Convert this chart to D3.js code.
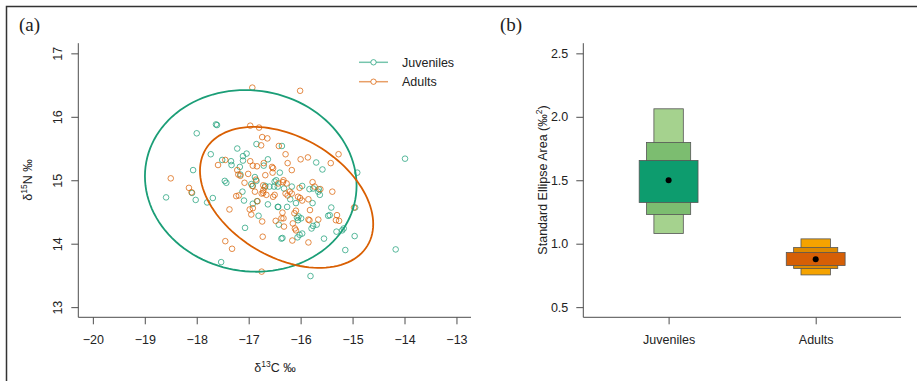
<!DOCTYPE html>
<html>
<head>
<meta charset="utf-8">
<script src="https://cdn.jsdelivr.net/npm/d3@7"></script>
<style>
  body { margin: 0; background: #fff; }
  svg { display: block; font-family: "Liberation Sans", Arial, sans-serif; }
</style>
</head>
<body>
<svg id="chart" width="917" height="381"></svg>
<script>
// --- data ---
const groups = ['Juveniles', 'Adults'];

// d13C, d15N
const juveniles = [
  [-18.59, 14.73], [-18.07, 15.16], [-18.00, 15.74], [-18.09, 14.80], [-18.02, 14.69],
  [-17.80, 14.65], [-17.69, 14.72], [-17.73, 15.41], [-17.63, 15.88], [-17.61, 15.87],
  [-17.53, 13.71], [-17.46, 14.99], [-17.43, 14.96], [-17.51, 15.32], [-17.34, 15.30],
  [-17.33, 15.24], [-17.22, 15.50], [-17.17, 15.21], [-17.16, 15.09], [-17.12, 14.82],
  [-17.09, 14.68], [-17.07, 14.25], [-17.11, 15.38], [-17.04, 15.42], [-17.11, 15.31],
  [-16.95, 14.94], [-16.88, 15.05], [-16.85, 14.99], [-16.85, 15.57], [-16.92, 14.63],
  [-16.81, 14.44], [-16.84, 14.67], [-16.71, 15.23], [-16.63, 15.33], [-16.68, 14.91],
  [-16.63, 14.62], [-16.51, 14.90], [-16.47, 15.00], [-16.50, 14.98], [-16.43, 14.58],
  [-16.42, 14.30], [-16.36, 15.54], [-16.40, 15.12], [-16.35, 14.09], [-16.32, 14.87],
  [-16.26, 14.58], [-16.20, 14.70], [-16.17, 14.90], [-16.09, 14.64], [-16.07, 14.41],
  [-16.04, 14.43], [-16.05, 14.37], [-15.99, 14.40], [-15.97, 14.91], [-16.02, 14.14],
  [-16.06, 14.10], [-15.97, 14.16], [-15.83, 14.86], [-15.77, 14.64], [-15.79, 14.24],
  [-15.76, 14.28], [-15.70, 15.28], [-15.69, 14.30], [-15.81, 13.49], [-15.63, 14.77],
  [-15.58, 15.17], [-15.55, 14.08], [-15.47, 14.44], [-15.44, 14.45], [-15.41, 14.57],
  [-15.31, 14.19], [-15.17, 14.24], [-15.20, 14.21], [-15.14, 13.90], [-14.96, 14.12],
  [-14.95, 14.57], [-14.91, 15.12], [-14.17, 13.91], [-13.99, 15.34], [-15.66, 14.82],
  [-16.60, 14.90], [-16.92, 14.91], [-16.44, 14.90], [-16.44, 14.58], [-15.76, 14.87],
  [-15.65, 14.86], [-16.37, 14.08]
];

const adults = [
  [-18.50, 15.03], [-18.15, 14.88], [-18.10, 14.81], [-17.59, 15.24], [-17.45, 15.32],
  [-17.45, 14.04], [-17.32, 13.92], [-17.37, 14.54], [-17.24, 14.75], [-17.19, 14.76],
  [-17.22, 15.16], [-17.20, 15.09], [-17.16, 15.07], [-17.08, 14.96], [-17.01, 15.10],
  [-16.97, 15.86], [-16.80, 15.83], [-16.93, 16.46], [-16.74, 15.68], [-16.64, 15.66],
  [-16.76, 15.55], [-16.97, 15.30], [-16.92, 15.23], [-16.84, 15.22], [-16.86, 15.01],
  [-16.93, 14.91], [-16.98, 14.54], [-16.95, 14.46], [-16.83, 14.67], [-16.75, 14.79],
  [-16.72, 14.84], [-16.71, 15.27], [-16.68, 15.08], [-16.74, 14.35], [-16.73, 14.11],
  [-16.75, 13.56], [-16.55, 15.21], [-16.53, 15.19], [-16.54, 15.12], [-16.42, 15.54],
  [-16.29, 15.41], [-16.25, 15.27], [-16.17, 15.16], [-16.43, 14.95], [-16.33, 15.00],
  [-16.34, 14.97], [-16.48, 14.36], [-16.37, 14.40], [-16.33, 14.40], [-16.35, 14.49],
  [-16.32, 14.27], [-16.29, 14.79], [-16.25, 14.76], [-16.21, 14.82], [-16.17, 14.79],
  [-16.15, 14.32], [-16.16, 14.05], [-16.12, 14.48], [-16.09, 14.52], [-16.11, 14.24],
  [-16.09, 14.21], [-16.02, 14.88], [-15.97, 14.68], [-16.01, 16.41], [-16.00, 15.33],
  [-16.05, 14.74], [-16.01, 14.72], [-15.86, 15.36], [-15.85, 14.70], [-15.82, 14.53],
  [-15.85, 14.38], [-15.83, 14.37], [-15.85, 14.02], [-15.77, 14.97], [-15.73, 14.90],
  [-15.66, 14.38], [-15.62, 14.86], [-15.42, 15.27], [-15.39, 14.82], [-15.27, 15.41],
  [-15.30, 14.45], [-15.32, 14.37], [-15.26, 14.36], [-14.97, 14.57], [-16.72, 14.92],
  [-16.69, 14.89], [-16.88, 14.82], [-16.66, 14.77], [-16.27, 14.95], [-16.72, 14.80],
  [-16.53, 14.74], [-16.50, 14.77], [-16.92, 14.56]
];

// standard ellipse: centre and covariance (sxx, syy, sxy)
const ellipseJuv = { cx: -16.96, cy: 14.99, sxx: 4.15, syy: 2.05, sxy: -0.15 };
const ellipseAdu = { cx: -16.27, cy: 14.73, sxx: 2.78, syy: 1.234, sxy: -0.70 };

// SEA posterior: mode and credible intervals 50 / 75 / 95 (low, high)
const seaMode = [1.50, 0.878];
const sea50 = [[1.325, 1.656], [0.828, 0.931]];
const sea75 = [[1.23, 1.798], [0.804, 0.970]];
const sea95 = [[1.08, 2.063], [0.754, 1.038]];

const xTicksA = [-20, -19, -18, -17, -16, -15, -14, -13];
const yTicksA = [13, 14, 15, 16, 17];
const yTicksB = [0.5, 1.0, 1.5, 2.0, 2.5];

// --- styles ---
const colors = { Juveniles: '#1b9e77', Adults: '#d95f02' };
const boxFills = {
  Juveniles: ['#a5d28e', '#7cbd70', '#0d9c6e'],
  Adults: ['#f5a300', '#de8a00', '#d65f06']
};
const axisColor = '#4d4d4d';
const textColor = '#222';

const svg = d3.select('#chart');

// frame of the figure
svg.append('path')
  .attr('d', 'M6.5,381V6.5H917')
  .attr('fill', 'none').attr('stroke', '#333').attr('stroke-width', 1.5);

function panelLabel(x, text) {
  svg.append('text')
    .attr('x', x).attr('y', 31)
    .attr('font-family', '"Liberation Serif", "DejaVu Serif", serif')
    .attr('font-size', 19).attr('fill', textColor)
    .text(text);
}
panelLabel(19, '(a)');
panelLabel(500, '(b)');

// ================= panel (a) =================
const xA = d3.scaleLinear().domain([-20.28, -12.72]).range([78.3, 471]);
const yA = d3.scaleLinear().domain([12.84, 17.16]).range([317.3, 43.2]);

const gA = svg.append('g');

// L-shaped box
gA.append('path')
  .attr('d', `M${xA.range()[0]},${yA.range()[1]}V${yA.range()[0]}H${xA.range()[1]}`)
  .attr('fill', 'none').attr('stroke', axisColor).attr('stroke-width', 1);

const axA = gA.append('g')
  .attr('transform', `translate(0,${yA.range()[0]})`)
  .call(d3.axisBottom(xA).tickValues(xTicksA).tickSize(7).tickSizeOuter(0)
    .tickPadding(11).tickFormat(d => d3.format('d')(d).replace('-', '\u2212')));
axA.select('.domain').remove();

const ayA = gA.append('g')
  .attr('transform', `translate(${xA.range()[0]},0)`)
  .call(d3.axisLeft(yA).tickValues(yTicksA).tickSize(7).tickSizeOuter(0)
    .tickFormat(d3.format('d')));
ayA.select('.domain').remove();
ayA.selectAll('.tick text')
  .attr('transform', 'rotate(-90)')
  .attr('x', 0).attr('y', -16.6).attr('dy', 0)
  .attr('text-anchor', 'middle');

[axA, ayA].forEach(a => {
  a.selectAll('.tick line').attr('stroke', axisColor);
  a.selectAll('.tick text').attr('font-size', 12.5).attr('fill', textColor)
    .attr('font-family', '"Liberation Sans", Arial, sans-serif');
});

// axis titles
const xTitle = gA.append('text')
  .attr('x', 275).attr('y', 372).attr('text-anchor', 'middle')
  .attr('font-size', 12.5).attr('fill', textColor);
xTitle.append('tspan').text('\u03b4');
xTitle.append('tspan').attr('font-size', 8.5).attr('dy', -5).text('13');
xTitle.append('tspan').attr('dy', 5).text('C \u2030');

const yTitle = gA.append('text')
  .attr('transform', 'translate(32,180) rotate(-90)')
  .attr('text-anchor', 'middle')
  .attr('font-size', 12.5).attr('fill', textColor);
yTitle.append('tspan').text('\u03b4');
yTitle.append('tspan').attr('font-size', 8.5).attr('dy', -5).text('15');
yTitle.append('tspan').attr('dy', 5).text('N \u2030');

// points
function drawPoints(data, color) {
  gA.append('g').selectAll('circle')
    .data(data).join('circle')
    .attr('cx', d => xA(d[0]))
    .attr('cy', d => yA(d[1]))
    .attr('r', 2.8)
    .attr('fill', 'none')
    .attr('stroke', color)
    .attr('stroke-opacity', 0.72)
    .attr('stroke-width', 1);
}
drawPoints(juveniles, colors.Juveniles);
drawPoints(adults, colors.Adults);

// ellipses
function ellipsePath(e) {
  const l11 = Math.sqrt(e.sxx);
  const l21 = e.sxy / l11;
  const l22 = Math.sqrt(e.syy - l21 * l21);
  const pts = d3.range(0, 361, 3).map(a => {
    const t = a * Math.PI / 180;
    return [e.cx + l11 * Math.cos(t), e.cy + l21 * Math.cos(t) + l22 * Math.sin(t)];
  });
  return d3.line().x(d => xA(d[0])).y(d => yA(d[1]))(pts);
}
gA.append('path').attr('d', ellipsePath(ellipseJuv))
  .attr('fill', 'none').attr('stroke', colors.Juveniles).attr('stroke-width', 1.8);
gA.append('path').attr('d', ellipsePath(ellipseAdu))
  .attr('fill', 'none').attr('stroke', colors.Adults).attr('stroke-width', 1.8);

// legend
const legend = gA.append('g').attr('transform', 'translate(359,62.3)');
groups.forEach((gname, i) => {
  const row = legend.append('g').attr('transform', `translate(0,${i * 19.4})`);
  row.append('line').attr('x1', 0).attr('x2', 29).attr('y1', 0).attr('y2', 0)
    .attr('stroke', colors[gname]).attr('stroke-opacity', 0.6).attr('stroke-width', 1.5);
  row.append('circle').attr('cx', 14.5).attr('cy', 0).attr('r', 2.7)
    .attr('fill', '#fff').attr('stroke', colors[gname]).attr('stroke-opacity', 0.75);
  row.append('text').attr('x', 43).attr('y', 0).attr('dy', '0.36em')
    .attr('font-size', 12.5).attr('fill', textColor).text(gname);
});

// ================= panel (b) =================
const xB = d3.scaleLinear().domain([0.42, 2.58]).range([583.3, 901]);
const yB = d3.scaleLinear().domain([0.42, 2.58]).range([317.3, 43.2]);
const gB = svg.append('g');

gB.append('path')
  .attr('d', `M${xB.range()[0]},${yB.range()[1]}V${yB.range()[0]}H${xB.range()[1]}`)
  .attr('fill', 'none').attr('stroke', axisColor).attr('stroke-width', 1);

const axB = gB.append('g')
  .attr('transform', `translate(0,${yB.range()[0]})`)
  .call(d3.axisBottom(xB).tickValues([1, 2]).tickSize(7).tickSizeOuter(0)
    .tickPadding(11).tickFormat(d => groups[d - 1]));
axB.select('.domain').remove();

const ayB = gB.append('g')
  .attr('transform', `translate(${xB.range()[0]},0)`)
  .call(d3.axisLeft(yB).tickValues(yTicksB).tickSize(7).tickSizeOuter(0)
    .tickPadding(8).tickFormat(d3.format('.1f')));
ayB.select('.domain').remove();

[axB, ayB].forEach(a => {
  a.selectAll('.tick line').attr('stroke', axisColor);
  a.selectAll('.tick text').attr('font-size', 12.5).attr('fill', textColor)
    .attr('font-family', '"Liberation Sans", Arial, sans-serif');
});

const yTitleB = gB.append('text')
  .attr('transform', 'translate(547,180) rotate(-90)')
  .attr('text-anchor', 'middle')
  .attr('font-size', 12.5).attr('fill', textColor);
yTitleB.append('tspan').text('Standard Ellipse Area (\u2030');
yTitleB.append('tspan').attr('font-size', 8.5).attr('dy', -5).text('2');
yTitleB.append('tspan').attr('dy', 5).text(')');

// credible interval boxes: 95, 75, 50 from back to front
const halfWidths = [0.1, 0.15, 0.2];
groups.forEach((gname, i) => {
  const levels = [sea95[i], sea75[i], sea50[i]];
  levels.forEach((ci, k) => {
    gB.append('rect')
      .attr('x', xB(i + 1 - halfWidths[k]))
      .attr('width', xB(i + 1 + halfWidths[k]) - xB(i + 1 - halfWidths[k]))
      .attr('y', yB(ci[1]))
      .attr('height', yB(ci[0]) - yB(ci[1]))
      .attr('fill', boxFills[gname][k])
      .attr('stroke', '#555').attr('stroke-width', 0.8);
  });
  gB.append('circle')
    .attr('cx', xB(i + 1)).attr('cy', yB(seaMode[i])).attr('r', 3)
    .attr('fill', '#000');
});
</script>
</body>
</html>
